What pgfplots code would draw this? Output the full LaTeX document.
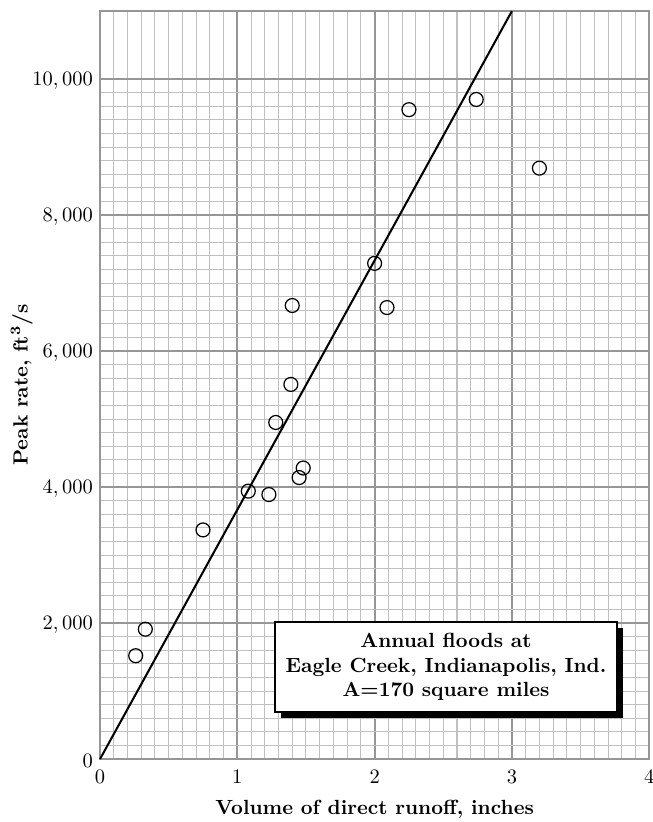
\documentclass[border=0pt]{standalone}
\usepackage{pgfplots}
\pgfplotsset{compat=1.18}
\usetikzlibrary{shadows}
\definecolor{majgrid}{RGB}{150,150,150}
\definecolor{mingrid}{RGB}{192,192,192}
\begin{document}
\begin{tikzpicture}
\begin{axis}[
  scale only axis,
  width=268pt, height=365pt,
  xmin=0, xmax=4, ymin=0, ymax=11000,
  xtick={0,1,2,3,4},
  ytick={0,2000,4000,6000,8000,10000},
  minor x tick num=9, minor y tick num=9,
  grid=both,
  major grid style={majgrid, line width=1pt},
  minor grid style={mingrid, line width=0.5pt},
  axis line style={majgrid, line width=1pt},
  major tick length=0pt, minor tick length=0pt,
  scaled y ticks=false,
  /pgf/number format/1000 sep={{,}},
  xticklabel style={yshift=-2pt},
  yticklabel style={yshift=-1pt},
  xlabel={\bfseries Volume of direct runoff, inches},
  ylabel={\bfseries Peak rate, ft\textsuperscript{3}/s},
  xlabel style={yshift=-1pt},
  ylabel style={yshift=-7pt},
  clip=false,
]
\coordinate (bl) at (rel axis cs:0,0);
\coordinate (tr) at (rel axis cs:1,1);
\addplot[black, line width=1pt] coordinates {(0,0) (3,11000)};
\addplot[only marks, mark=o, mark size=3.4pt, mark options={black, line width=0.6pt}] coordinates {
(0.26,1520) (0.33,1910) (0.75,3370) (1.08,3940) (1.23,3890)
(1.28,4950) (1.45,4140) (1.48,4280) (1.39,5510) (1.40,6670)
(2.00,7290) (2.09,6640) (2.25,9550) (2.74,9700) (3.20,8690)
};
\node[draw=black, line width=1pt, fill=white, align=center, font=\bfseries,
  minimum width=167pt, minimum height=44pt, inner sep=2pt,
  drop shadow={shadow xshift=3pt, shadow yshift=-3pt, opacity=1, fill=black}]
  at (axis cs:2.52,1353) {Annual floods at\\Eagle Creek, Indianapolis, Ind.\\A=170 square miles};
\end{axis}
\pgfresetboundingbox
\path ([shift={(-48.8pt,-30.7pt)}]bl) rectangle ([shift={(1.5pt,5.4pt)}]tr);
\end{tikzpicture}
\end{document}
